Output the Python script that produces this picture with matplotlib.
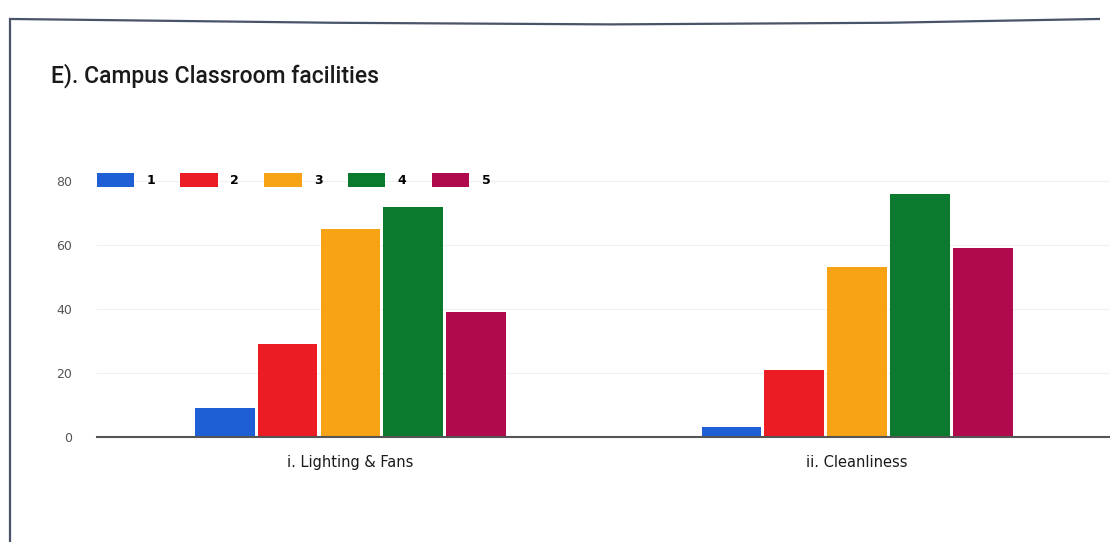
import numpy as np
import matplotlib
matplotlib.use('Agg')
import matplotlib.pyplot as plt
from matplotlib.patches import Patch
from matplotlib.lines import Line2D

# Survey counts per rating for each classroom facility item
categories = ['i. Lighting & Fans', 'ii. Cleanliness']
ratings = ['1', '2', '3', '4', '5']
rating_1 = [9, 3]
rating_2 = [29, 21]
rating_3 = [65, 53]
rating_4 = [72, 76]
rating_5 = [39, 59]
yticks = [0, 20, 40, 60, 80]

series = [rating_1, rating_2, rating_3, rating_4, rating_5]
colors = ['#1f5fd6', '#ec1c24', '#f8a316', '#0b7a2e', '#b0094c']

fig = plt.figure(figsize=(11.1, 5.42), dpi=100)
fig.patch.set_facecolor('white')

# page border left by the scan
fig.add_artist(Line2D([0.009, 0.009], [0.0, 0.962], color='#4a5468', lw=1.6))
fig.add_artist(Line2D([0.009, 0.3, 0.55, 0.8, 0.99], [0.965, 0.958, 0.955, 0.958, 0.965],
                      color='#4a5468', lw=1.6))

fig.text(0.046, 0.860, 'E). Campus Classroom facilities', fontsize=16.5,
         family='Roboto', fontweight='medium', color='#1a1a1a',
         ha='left', va='center')

ax = fig.add_axes([0.0874, 0.1937, 0.913, 0.4723])
x = np.arange(len(categories))
width = 0.124
offsets = (np.arange(len(series)) - 2) * width

for vals, off, col, lab in zip(series, offsets, colors, ratings):
    ax.bar(x + off, vals, width * 0.95, color=col, label=lab, zorder=3)

ax.set_xlim(-0.5, len(categories) - 0.5)
ax.set_ylim(0, 80)
ax.set_yticks(yticks)
ax.set_yticklabels([str(t) for t in yticks], fontsize=9, color='#555555')
ax.set_xticks(x)
ax.set_xticklabels(categories, fontsize=10.5, fontweight='medium', color='#1a1a1a')
ax.tick_params(axis='both', length=0)
ax.tick_params(axis='y', pad=18)
ax.tick_params(axis='x', pad=13)
ax.grid(axis='y', color='#f0f0f0', lw=0.8, zorder=0)
for s in ['top', 'right', 'left']:
    ax.spines[s].set_visible(False)
ax.spines['bottom'].set_color('#555555')
ax.spines['bottom'].set_linewidth(1.5)
ax.spines['bottom'].set_zorder(4)

handles = [Patch(facecolor=c, label=r) for c, r in zip(colors, ratings)]
fig.legend(handles=handles, loc='center left', bbox_to_anchor=(0.077, 0.668),
           ncol=5, frameon=False, handlelength=3.0, handleheight=1.3,
           columnspacing=2.0, handletextpad=1.0,
           prop={'size': 9, 'weight': 'bold'})

fig.savefig('out.png', dpi=100, facecolor='white')
